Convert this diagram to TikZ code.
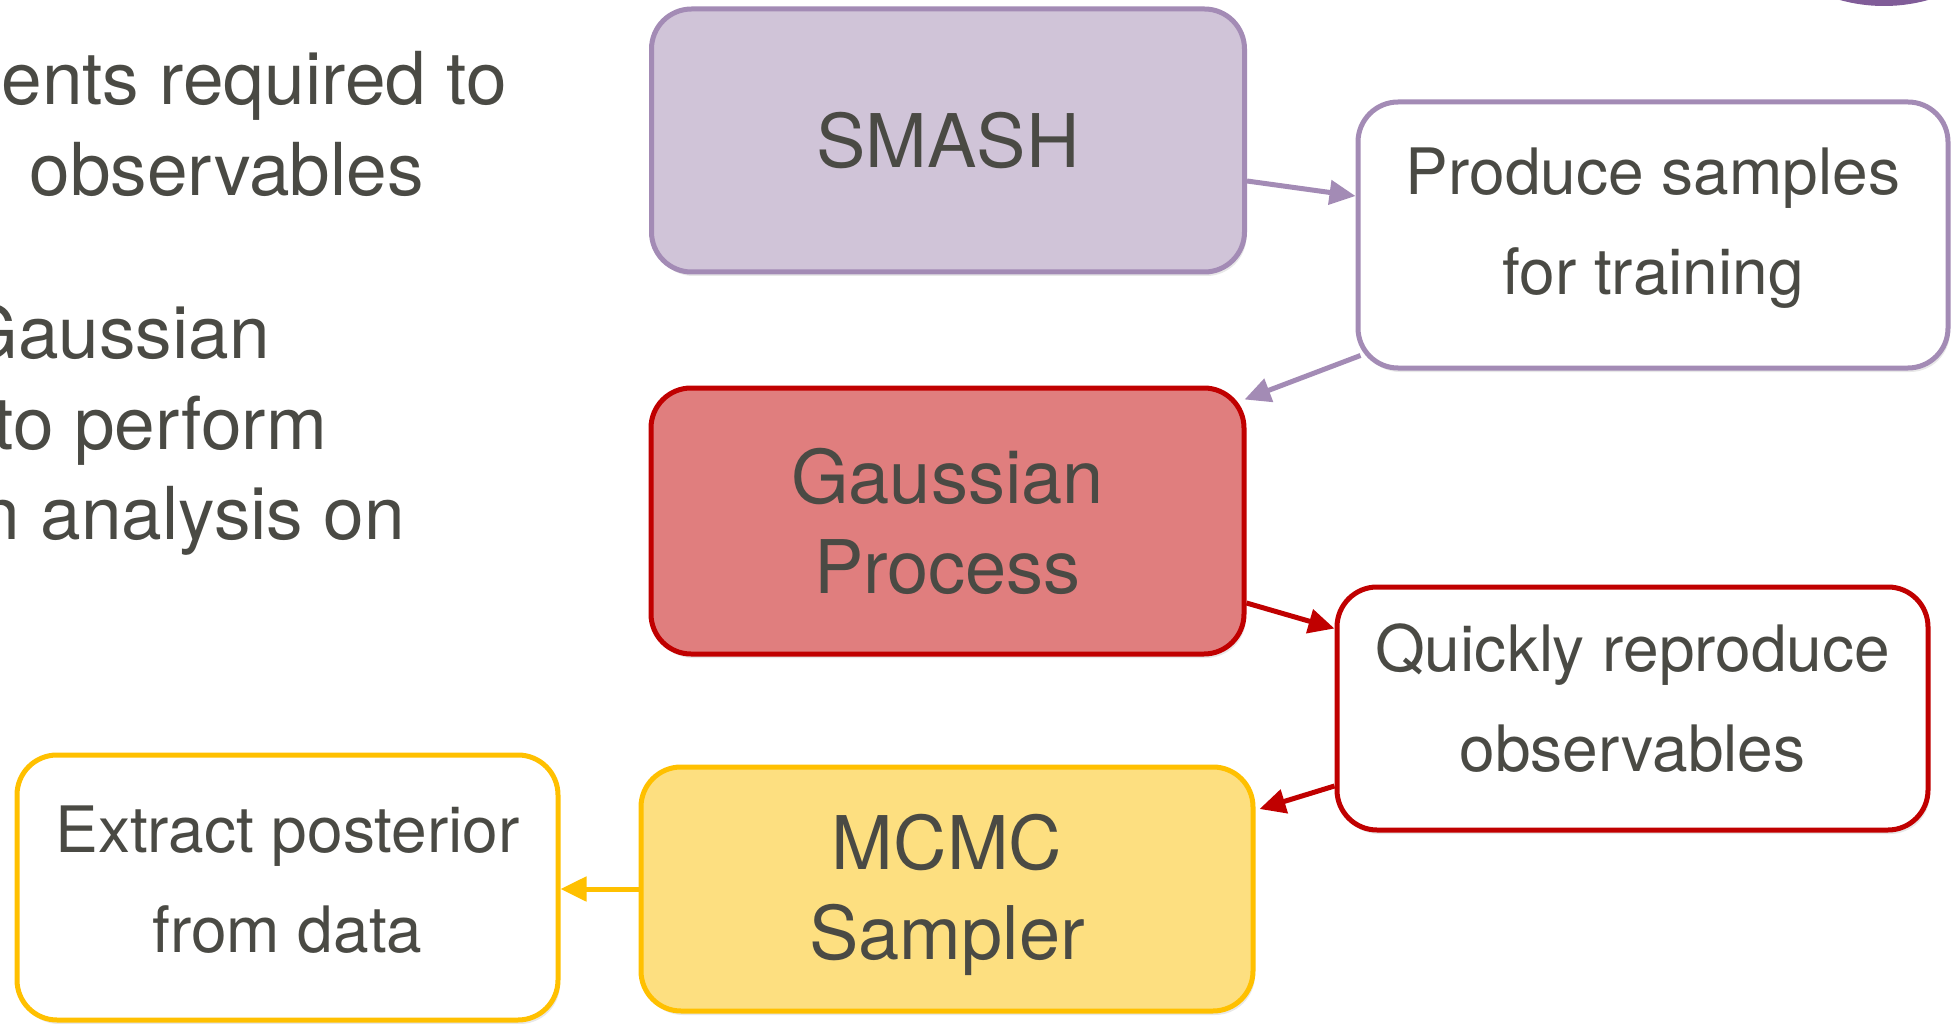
\documentclass[tikz,border=0pt]{standalone}
\usepackage{fontspec}
\setmainfont{TeX Gyre Heros}
\usetikzlibrary{arrows.meta,shadows}
\definecolor{txt}{RGB}{74,74,68}
\definecolor{purpB}{RGB}{163,139,181}
\definecolor{purpF}{RGB}{208,196,216}
\definecolor{redB}{RGB}{192,0,0}
\definecolor{redF}{RGB}{224,126,126}
\definecolor{yelB}{RGB}{255,192,0}
\definecolor{yelF}{RGB}{253,223,128}
\definecolor{blob}{RGB}{128,92,152}
\tikzset{
  box/.style={draw, line width=5pt, rounded corners=40pt, inner sep=0pt,
    drop shadow={opacity=0.18, shadow xshift=2pt, shadow yshift=-4pt}},
  bigtext/.style={align=center, text=txt, inner sep=0pt, font=\fontsize{74}{90}\selectfont},
  smalltext/.style={align=center, text=txt, inner sep=0pt, font=\fontsize{64}{100}\selectfont},
  conn/.style={line width=5pt, -{Triangle[length=26pt,width=24pt]}},
  lefttext/.style={anchor=base east, text=txt, inner sep=0pt, font=\fontsize{73}{90}\selectfont}
}
\begin{document}
\begin{tikzpicture}[x=1pt,y=-1pt]
\useasboundingbox (0,0) rectangle (1957,1024);
\begin{scope}
\clip (0,0) rectangle (1957,1024);
\fill[blob] (1884,-158) circle (164);
\node[lefttext] (l1) at (507,105) {ents required to};
\node[lefttext] (l2) at (424,196) {observables};
\node[lefttext] (l3) at (270,359) {Gaussian};
\node[lefttext] (l4) at (327,449) {to perform};
\node[lefttext] (l5) at (405,539) {n analysis on};
\end{scope}

\node[box, fill=purpF, draw=purpB, minimum width=593pt, minimum height=263pt,
  label={[bigtext]center:SMASH}] (smash) at (948,140.5) {};
\node[box, fill=white, draw=purpB, minimum width=590pt, minimum height=266pt,
  label={[smalltext, yshift=7pt]center:Produce samples\\for training}] (prod) at (1653,235) {};
\node[box, fill=redF, draw=redB, minimum width=593pt, minimum height=266pt,
  label={[bigtext]center:Gaussian\\Process}] (gp) at (947.5,521) {};
\node[box, fill=white, draw=redB, minimum width=591pt, minimum height=243pt,
  label={[smalltext, yshift=10pt]center:Quickly reproduce\\observables}] (quick) at (1632.5,708.5) {};
\node[box, fill=yelF, draw=yelB, minimum width=612pt, minimum height=244pt,
  label={[bigtext, yshift=-6pt]center:MCMC\\Sampler}] (mcmc) at (947,889) {};
\node[box, fill=white, draw=yelB, minimum width=541pt, minimum height=265pt,
  label={[smalltext, yshift=8pt]center:Extract posterior\\from data}] (ext) at (287.5,887.5) {};

\draw[conn, purpB] ([yshift=-40.5pt]smash.east) -- ([yshift=39pt]prod.west);
\draw[conn, purpB] ([xshift=5pt,yshift=15pt]prod.south west) -- ([xshift=-2pt,yshift=-14pt]gp.north east);
\draw[conn, redB] ([yshift=-82pt]gp.east) -- ([yshift=80pt]quick.west);
\draw[conn, redB] ([yshift=-77.5pt]quick.west) -- ([xshift=4pt,yshift=80pt]mcmc.east);
\draw[conn, yelB] (mcmc.west) -- (mcmc.west -| ext.east);
\end{tikzpicture}
\end{document}
